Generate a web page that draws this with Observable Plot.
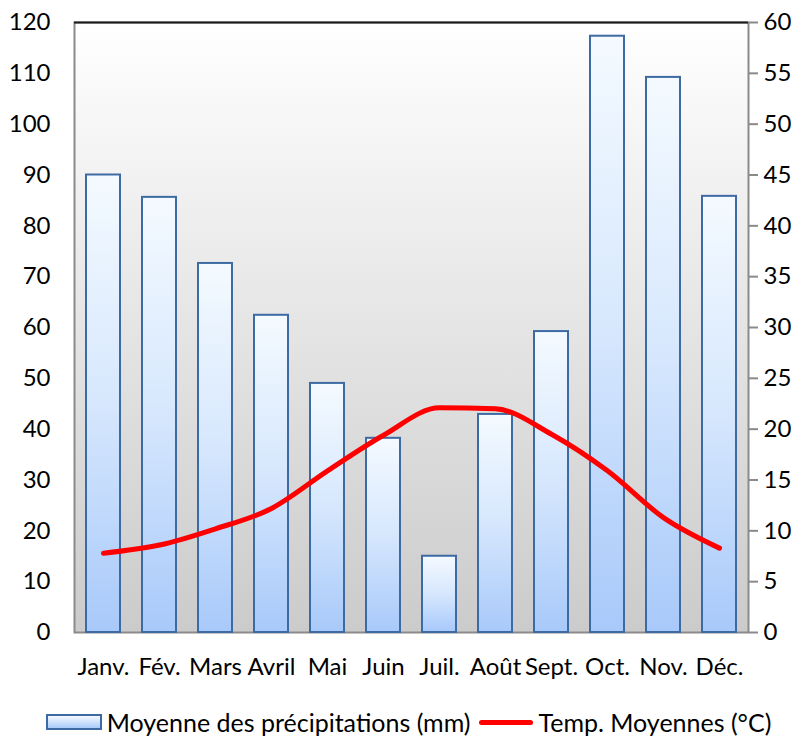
<!DOCTYPE html>
<html><head><meta charset="utf-8">
<script src="https://cdn.jsdelivr.net/npm/d3@7"></script>
<script src="https://cdn.jsdelivr.net/npm/@observablehq/plot@0.6"></script>
<style>
body{margin:0;background:#fff;font-family:Lato,"Open Sans",sans-serif;}
#legend{display:flex;justify-content:center;align-items:center;margin-top:18px;font-size:25px;color:#000;height:28px;padding-left:14px}
.sw-bar{width:52px;height:12px;border:2px solid #3e6aa3;background:linear-gradient(#f3f9ff,#a9cbfb);margin-right:5px}
.sw-line{width:54px;height:5px;background:#ff0000;border-radius:3px;margin:0 5px 0 9px}
</style>
</head><body><div id="chart"></div>
<div id="legend"><span class="sw-bar"></span><span>Moyenne des précipitations (mm)</span><span class="sw-line"></span><span>Temp. Moyennes (°C)</span></div>
<script>
const months = ["Janv.","Fév.","Mars","Avril","Mai","Juin","Juil.","Août","Sept.","Oct.","Nov.","Déc."];
const precip = [90, 85.6, 72.6, 62.4, 49, 38.2, 15, 42.9, 59.2, 117.3, 109.2, 85.8];
const temps = [7.8, 8.6, 10.2, 12.2, 15.9, 19.4, 22.1, 22.0, 19.5, 15.9, 11.3, 8.3];
const leftTicks = [0,10,20,30,40,50,60,70,80,90,100,110,120];
const rightTicks = [0,5,10,15,20,25,30,35,40,45,50,55,60];

const data = months.map((m,i)=>({month:m, precip:precip[i], temp:temps[i]}));
const TEMP_FACTOR = 120/60;

const defs = () => {
  const d = d3.create("svg:defs");
  const bg = d.append("linearGradient").attr("id","bgGrad").attr("x1",0).attr("y1",0).attr("x2",0).attr("y2",1);
  bg.append("stop").attr("offset","0%").attr("stop-color","#ffffff");
  bg.append("stop").attr("offset","9%").attr("stop-color","#fafafa");
  bg.append("stop").attr("offset","100%").attr("stop-color","#cbcbcb");
  const bar = d.append("linearGradient").attr("id","barGrad").attr("x1",0).attr("y1",0).attr("x2",0).attr("y2",1);
  bar.append("stop").attr("offset","0%").attr("stop-color","#f4faff");
  bar.append("stop").attr("offset","50%").attr("stop-color","#d6e7fd");
  bar.append("stop").attr("offset","100%").attr("stop-color","#a8c9fa");
  return d.node();
};

const chart = Plot.plot({
  width: 803,
  height: 690,
  marginLeft: 74,
  marginRight: 55,
  marginTop: 22,
  marginBottom: 58,
  style: {fontFamily: "Lato, 'Open Sans', sans-serif", fontSize: "24px", color: "#000", background: "#fff"},
  x: {domain: months, paddingInner: 0.39, paddingOuter: 0.2, label: null},
  y: {domain: [0, 120], label: null},
  marks: [
    defs,
    Plot.frame({fill: "url(#bgGrad)", stroke: "#8a8a8a", strokeWidth: 2}),
    Plot.ruleY([120], {stroke: "#1a1a1a", strokeWidth: 2}),
    Plot.barY(data, {x: "month", y: "precip", fill: "url(#barGrad)", stroke: "#3e6aa3", strokeWidth: 2}),
    Plot.line(data, {x: "month", y: d => d.temp * TEMP_FACTOR, stroke: "#ff0000", strokeWidth: 5, curve: "monotone-x", strokeLinecap: "round", strokeLinejoin: "round"}),
    Plot.axisY(leftTicks, {anchor: "left", tickSize: 0, tickPadding: 24, fontSize: 24, label: null}),
    Plot.axisY(rightTicks.map(t => t * TEMP_FACTOR), {anchor: "right", tickSize: 9, tickPadding: 6, stroke: "#8a8a8a", strokeWidth: 2, tickFormat: d => d / TEMP_FACTOR, fontSize: 24, label: null}),
    Plot.axisX({anchor: "bottom", tickSize: 0, tickPadding: 25, fontSize: 24, label: null})
  ]
});
document.getElementById("chart").appendChild(chart);
</script>
</body></html>
